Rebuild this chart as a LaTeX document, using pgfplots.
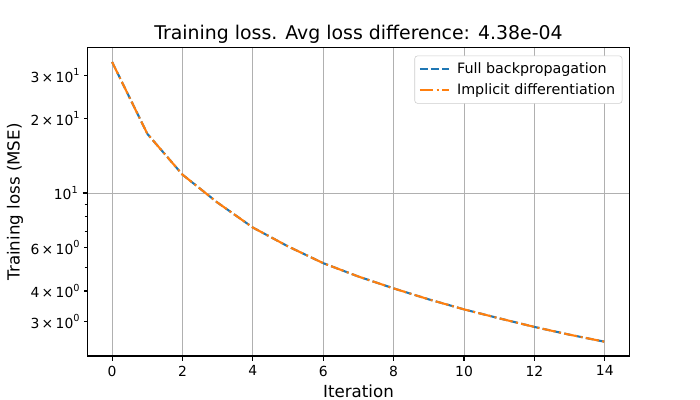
\documentclass[border=0pt]{standalone}
\usepackage{pgfplots}
\pgfplotsset{compat=1.18}
\usepackage{fontspec}
\setmainfont{DejaVu Sans}
\definecolor{mplblue}{HTML}{1F77B4}
\definecolor{mplorange}{HTML}{FF7F0E}
\definecolor{mplgrid}{HTML}{B0B0B0}
\newcommand{\sci}[2]{#1\,×\,10\raisebox{0.9ex}{\fontsize{7}{8}\selectfont #2}}
\newcommand{\ten}[1]{10\raisebox{0.9ex}{\fontsize{7}{8}\selectfont #1}}
\begin{document}
\begin{tikzpicture}
\begin{axis}[
  scale only axis,
  width=390.2pt, height=221.8pt,
  at={(0,0)}, anchor=south west,
  ymode=log, log basis y=10,
  xmin=-0.7, xmax=14.7,
  ymin=2.18, ymax=38.8,
  xtick={0,2,4,6,8,10,12,14},
  ytick={10},
  yticklabels={\ten{1}},
  extra y ticks={3,4,6,20,30},
  extra y tick labels={\sci{3}{0},\sci{4}{0},\sci{6}{0},\sci{2}{1},\sci{3}{1}},
  extra y tick style={grid=none, major tick length=2.2pt},
  minor ytick={5,7,8,9},
  minor tick length=2pt,
  major tick length=3.5pt,
  tick align=outside,
  xtick pos=bottom, ytick pos=left,
  xmajorgrids, ymajorgrids,
  grid style={color=mplgrid, line width=0.6pt},
  axis line style={line width=0.8pt},
  tick style={line width=0.8pt, black},
  /pgf/number format/assume math mode=true,
  ticklabel style={font=\fontsize{10}{12}\selectfont},
  log ticks with fixed point,
  title={Training loss. Avg loss difference: 4.38e-04},
  title style={font=\fontsize{13.6}{16}\selectfont, yshift=-6pt},
  xlabel={Iteration},
  ylabel={Training loss (MSE)},
  label style={font=\fontsize{12}{14}\selectfont},
  xlabel style={yshift=1pt},
  ylabel style={yshift=-5pt},
  legend image code/.code={\draw[#1] (0pt,0pt) -- (21pt,0pt); \path (24pt,0pt);},
  legend style={at={(0.987,0.975)}, anchor=north east, draw=black!20, rounded corners=2pt, font=\fontsize{10.3}{12}\selectfont, row sep=1.5pt, inner sep=3pt},
  legend cell align=left,
]
\addplot[mplblue, line width=1.5pt, dash pattern=on 5.55pt off 2.4pt] coordinates {
(0,34.0) (1,17.39) (2,11.87) (3,9.13) (4,7.24) (5,6.07) (6,5.19) (7,4.58) (8,4.10) (9,3.70) (10,3.37) (11,3.10) (12,2.86) (13,2.66) (14,2.49)
};
\addlegendentry{Full backpropagation}
\addplot[mplorange, line width=1.5pt, dash pattern=on 9.6pt off 2.4pt on 1.5pt off 2.4pt] coordinates {
(0,34.0) (1,17.39) (2,11.87) (3,9.13) (4,7.24) (5,6.07) (6,5.19) (7,4.58) (8,4.10) (9,3.70) (10,3.37) (11,3.10) (12,2.86) (13,2.66) (14,2.49)
};
\addlegendentry{Implicit differentiation}
\end{axis}
\pgfresetboundingbox
\useasboundingbox (-63pt,-31.68pt) rectangle (441pt,256.32pt);
\end{tikzpicture}
\end{document}
